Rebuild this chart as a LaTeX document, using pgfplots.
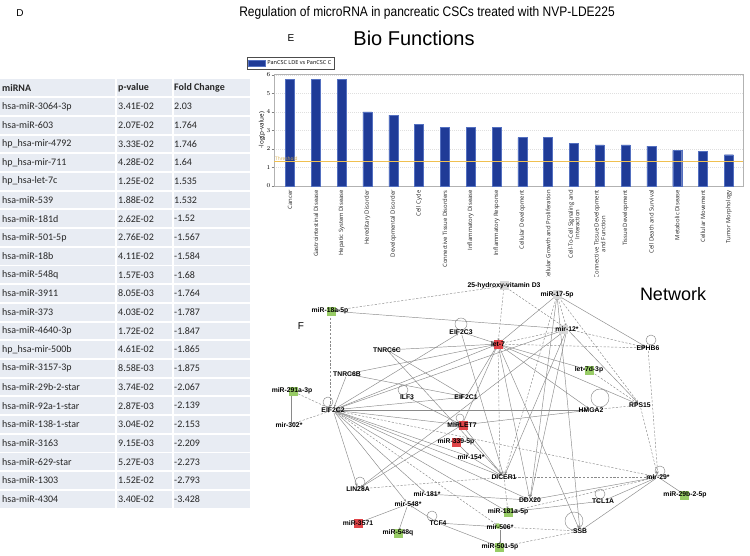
\documentclass[border=0pt]{standalone}
\usepackage{fontspec}
\setmainfont{Liberation Sans}
\newfontfamily\tabfont{Carlito}
\newfontfamily\uifont{Open Sans}
\usepackage{pgfplots}
\pgfplotsset{compat=1.18}
\usetikzlibrary{arrows.meta}
\definecolor{barblue}{HTML}{1F3B97}
\definecolor{baredge}{HTML}{5470C0}
\definecolor{tabbg}{HTML}{E8ECF3}
\definecolor{thr}{HTML}{F0C050}
\definecolor{netgray}{HTML}{8A8A8A}
\definecolor{netgreen}{HTML}{98CC66}
\definecolor{netred}{HTML}{E04448}
\definecolor{netlight}{HTML}{D8D8D8}
\pgfplotsset{
  ne/.style={no marks, color=netgray, line width=0.45pt, -{Stealth[length=2.6pt,width=2.2pt]}, shorten >=3pt, shorten <=3pt},
  nd/.style={ne, dash pattern=on 2.2pt off 1.6pt},
  pix/.style={at={(0pt,0pt)}, anchor=north west, scale only axis, width=750pt, height=555pt,
    xmin=0, xmax=750, ymin=0, ymax=555, y dir=reverse, axis lines=none, clip=false},
}
\newcommand{\nf}{\fontsize{6.8}{7}\selectfont\bfseries}
\begin{document}
\begin{tikzpicture}
\useasboundingbox[fill=white] (0,0) rectangle (750pt,-555pt);

% ---- headings
\node[font=\fontsize{10}{10}\selectfont] at (20pt,-13pt) {D};
\node[font=\fontsize{12}{12}\selectfont, yscale=1.15] at (427pt,-13pt) {Regulation of microRNA in pancreatic CSCs treated with NVP-LDE225};
\node[font=\fontsize{10}{10}\selectfont] at (291pt,-38pt) {E};
\node[font=\fontsize{20}{20}\selectfont] at (414pt,-38pt) {Bio Functions};

% ---- table D
\begin{scope}[font=\tabfont\fontsize{10}{11}\selectfont, text=black!85]
\fill[tabbg] (0pt,-79.4pt) rectangle (114.5pt,-96.2pt);
\fill[tabbg] (116.5pt,-79.4pt) rectangle (171.5pt,-96.2pt);
\fill[tabbg] (173.5pt,-79.4pt) rectangle (250pt,-96.2pt);
\node[anchor=west, inner sep=0pt, font=\tabfont\fontsize{10}{11}\selectfont\bfseries] at (2pt,-87.8pt) {miRNA};
\node[anchor=west, inner sep=0pt, font=\tabfont\fontsize{10}{11}\selectfont\bfseries] at (118pt,-87.8pt) {p-value};
\node[anchor=west, inner sep=0pt, font=\tabfont\fontsize{10}{11}\selectfont\bfseries] at (174pt,-87.8pt) {Fold Change};
\foreach \i/\a/\b/\c in {
0/hsa-miR-3064-3p/3.41E-02/2.03,
1/hsa-miR-603/2.07E-02/1.764,
2/hp\_hsa-mir-4792/3.33E-02/1.746,
3/hp\_hsa-mir-711/4.28E-02/1.64,
4/hp\_hsa-let-7c/1.25E-02/1.535,
5/hsa-miR-539/1.88E-02/1.532,
6/hsa-miR-181d/2.62E-02/-1.52,
7/hsa-miR-501-5p/2.76E-02/-1.567,
8/hsa-miR-18b/4.11E-02/-1.584,
9/hsa-miR-548q/1.57E-03/-1.68,
10/hsa-miR-3911/8.05E-03/-1.764,
11/hsa-miR-373/4.03E-02/-1.787,
12/hsa-miR-4640-3p/1.72E-02/-1.847,
13/hp\_hsa-mir-500b/4.61E-02/-1.865,
14/hsa-miR-3157-3p/8.58E-03/-1.875,
15/hsa-miR-29b-2-star/3.74E-02/-2.067,
16/hsa-miR-92a-1-star/2.87E-03/-2.139,
17/hsa-miR-138-1-star/3.04E-02/-2.153,
18/hsa-miR-3163/9.15E-03/-2.209,
19/hsa-miR-629-star/5.27E-03/-2.273,
20/hsa-miR-1303/1.52E-02/-2.793,
21/hsa-miR-4304/3.40E-02/-3.428}{
  \pgfmathsetmacro\yc{-(106.5+18.7*\i)}
  \pgfmathsetmacro\yt{\yc+8.4}
  \pgfmathsetmacro\yb{\yc-8.4}
  \fill[tabbg] (0pt,\yt pt) rectangle (114.5pt,\yb pt);
  \fill[tabbg] (116.5pt,\yt pt) rectangle (171.5pt,\yb pt);
  \fill[tabbg] (173.5pt,\yt pt) rectangle (250pt,\yb pt);
  \node[anchor=west, inner sep=0pt] at (2pt,\yc pt) {\a};
  \node[anchor=west, inner sep=0pt] at (118pt,\yc pt) {\b};
  \node[anchor=west, inner sep=0pt] at (174pt,\yc pt) {\c};
}
\end{scope}

% ---- bar chart E
\begin{axis}[
  at={(274pt,-186pt)}, anchor=south west,
  scale only axis, width=469pt, height=112pt,
  xmin=-0.62, xmax=17.55, ymin=0, ymax=6.05,
  xtick={0,1,...,17},
  xticklabels={Cancer, Gastrointestinal Disease, Hepatic System Disease, Hereditary Disorder, Developmental Disorder, Cell Cycle, Connective Tissue Disorders, Inflammatory Disease, Inflammatory Response, Cellular Development, Cellular Growth and Proliferation, {Cell-To-Cell Signaling and\\Interaction}, {Connective Tissue Development\\and Function}, Tissue Development, Cell Death and Survival, Metabolic Disease, Cellular Movement, Tumor Morphology},
  xticklabel style={rotate=90, anchor=east, align=center, font=\uifont\fontsize{5.9}{6.6}\selectfont, text=black!85, inner sep=1.5pt},
  x tick style={draw=none},
  xtick pos=bottom, ytick pos=left,
  ytick={0,...,6},
  yticklabel style={font=\uifont\fontsize{6}{6}\selectfont, inner sep=1pt},
  y tick style={gray},
  tick align=outside, major tick length=2.5pt,
  ylabel={-log(p-value)},
  ylabel style={font=\uifont\fontsize{6.3}{6.5}\selectfont, yshift=-3pt},
  ymajorgrids, grid style={gray!25, dash pattern=on 1pt off 1pt},
  axis line style={gray!60},
  legend style={at={(-0.0576,1.148)}, anchor=north west, font=\uifont\fontsize{5.5}{6}\selectfont, draw=black!70, inner sep=0.8pt, legend cell align=left},
]
\addplot[ybar, area legend, bar width=9pt, fill=barblue, draw=baredge, line width=0.3pt] coordinates {(0,5.75) (1,5.75) (2,5.75) (3,4.01) (4,3.83) (5,3.34) (6,3.17) (7,3.17) (8,3.17) (9,2.62) (10,2.62) (11,2.29) (12,2.22) (13,2.22) (14,2.15) (15,1.93) (16,1.88) (17,1.69)};
\addlegendentry{PanCSC LDE vs PanCSC C}
\addplot[thr, line width=0.9pt, no marks, forget plot] coordinates {(-0.62,1.3) (17.55,1.3)};
\node[anchor=south west, inner sep=0.5pt, text=thr!90!black, font=\uifont\fontsize{4.8}{5}\selectfont] at (axis cs:-0.6,1.33) {Threshold};
\end{axis}

% ---- network F: edges, loops, highlights
\begin{axis}[pix]
\fill[white] (axis cs:284,277) rectangle (axis cs:750,555);
% solid edges
\addplot[ne] coordinates {(333,410) (498,344)};
\addplot[ne] coordinates {(333,410) (461,332)};
\addplot[ne] coordinates {(333,410) (567,329)};
\addplot[ne] coordinates {(333,410) (466,397)};
\addplot[ne] coordinates {(333,410) (591,410)};
\addplot[ne] coordinates {(333,410) (462,425)};
\addplot[ne] coordinates {(333,410) (504,477)};
\addplot[ne] coordinates {(333,410) (530,500)};
\addplot[ne] coordinates {(333,410) (508,512)};
\addplot[ne] coordinates {(333,410) (408,504)};
\addplot[ne] coordinates {(333,410) (427,494)};
\addplot[ne] coordinates {(333,410) (358,489)};
\addplot[ne] coordinates {(333,410) (471,457)};
\addplot[ne] coordinates {(387,350) (498,344)};
\addplot[ne] coordinates {(387,350) (504,477)};
\addplot[ne] coordinates {(387,350) (466,397)};
\addplot[ne] coordinates {(347,374) (498,344)};
\addplot[ne] coordinates {(347,374) (333,410)};
\addplot[ne] coordinates {(347,374) (466,397)};
\addplot[ne] coordinates {(461,332) (498,344)};
\addplot[ne] coordinates {(461,332) (504,477)};
\addplot[ne] coordinates {(498,344) (530,500)};
\addplot[ne] coordinates {(498,344) (580,531)};
\addplot[ne] coordinates {(498,344) (640,405)};
\addplot[ne] coordinates {(498,344) (591,410)};
\addplot[ne] coordinates {(498,344) (589,370)};
\addplot[ne] coordinates {(462,425) (498,344)};
\addplot[ne] coordinates {(557,295) (498,344)};
\addplot[ne] coordinates {(557,295) (530,500)};
\addplot[ne] coordinates {(557,295) (580,531)};
\addplot[ne] coordinates {(557,295) (648,348)};
\addplot[ne] coordinates {(567,329) (530,500)};
\addplot[ne] coordinates {(567,329) (504,477)};
\addplot[ne] coordinates {(567,329) (640,405)};
\addplot[ne] coordinates {(567,329) (358,489)};
\addplot[ne] coordinates {(330,311) (567,329)};
\addplot[ne] coordinates {(407,397) (462,425)};
\addplot[ne] coordinates {(466,397) (498,344)};
\addplot[ne] coordinates {(462,425) (504,477)};
\addplot[ne] coordinates {(462,425) (591,410)};
\addplot[ne] coordinates {(462,425) (358,489)};
\addplot[ne] coordinates {(456,442) (471,457)};
\addplot[ne] coordinates {(471,457) (504,477)};
\addplot[ne] coordinates {(658,477) (530,500)};
\addplot[ne] coordinates {(658,477) (603,501)};
\addplot[ne] coordinates {(658,477) (580,531)};
\addplot[ne] coordinates {(658,477) (685,495)};
\addplot[ne] coordinates {(427,494) (530,500)};
\addplot[ne] coordinates {(508,512) (603,501)};
\addplot[ne] coordinates {(408,504) (358,523)};
\addplot[ne] coordinates {(408,504) (398,533)};
\addplot[ne] coordinates {(438,523) (408,504)};
\addplot[ne] coordinates {(438,523) (500,527)};
\addplot[ne] coordinates {(438,523) (500,547)};
\addplot[ne] coordinates {(500,527) (500,547)};
\addplot[no marks, color=netgray, line width=0.45pt] coordinates {(291,394) (291,423)};
% dashed edges
\addplot[nd] coordinates {(504,286) (330,311)};
\addplot[nd] coordinates {(504,286) (498,344)};
\addplot[nd] coordinates {(504,286) (567,329)};
\addplot[nd] coordinates {(330,311) (330,410)};
\addplot[nd] coordinates {(557,295) (504,477)};
\addplot[nd] coordinates {(557,295) (567,329)};
\addplot[nd] coordinates {(557,295) (640,405)};
\addplot[nd] coordinates {(498,344) (648,348)};
\addplot[nd] coordinates {(498,344) (500,477)};
\addplot[nd] coordinates {(567,329) (648,348)};
\addplot[nd] coordinates {(567,329) (498,344)};
\addplot[nd] coordinates {(648,348) (658,477)};
\addplot[nd] coordinates {(640,405) (591,410)};
\addplot[nd] coordinates {(640,405) (658,477)};
\addplot[nd] coordinates {(589,370) (640,405)};
\addplot[nd] coordinates {(504,477) (658,477)};
\addplot[nd] coordinates {(504,477) (358,489)};
\addplot[nd] coordinates {(504,477) (508,512)};
\addplot[nd] coordinates {(333,410) (658,477)};
\addplot[nd] coordinates {(658,477) (508,512)};
\addplot[nd] coordinates {(580,531) (500,547)};
\addplot[nd] coordinates {(580,531) (500,527)};
\addplot[nd] coordinates {(292,391) (333,410)};
\addplot[nd] coordinates {(289,425) (333,410)};
\addplot[nd] coordinates {(333,410) (500,527)};
% self loops
\addplot[only marks, mark=o, mark size=5pt, color=netgray, mark options={line width=0.45pt}] coordinates {(328,402) (403,390) (360,482) (600,494) (432,516) (651,340) (660,471)};
\addplot[only marks, mark=o, mark size=6pt, color=netgray, mark options={line width=0.45pt}] coordinates {(461,324)};
\addplot[only marks, mark=o, mark size=4pt, color=netgray, mark options={line width=0.45pt}] coordinates {(460,418)};
\addplot[only marks, mark=o, mark size=9pt, color=netgray, mark options={line width=0.45pt}] coordinates {(600,398) (574,521)};
% highlighted molecules
\addplot[only marks, mark=square*, mark size=3.8pt, color=netlight] coordinates {(504,285) (557,294) (563,329)};
\addplot[only marks, mark=square*, mark size=3.8pt, color=netgreen] coordinates {(331,311) (589,370) (293,391) (684,495) (508,512) (398,533) (499,547)};
\addplot[only marks, mark=*, mark size=2.5pt, color=netgreen] coordinates {(498,526)};
\addplot[only marks, mark=square*, mark size=3.8pt, color=netred] coordinates {(498,344) (463,425) (456,442) (358,523)};
\end{axis}

% ---- network F: labels on top
\begin{axis}[pix]
\node[font=\nf] at (axis cs:504,286) {25-hydroxy-vitamin D3};
\node[font=\nf] at (axis cs:557,295) {miR-17-5p};
\node[font=\nf] at (axis cs:330,311) {miR-18a-5p};
\node[font=\nf] at (axis cs:567,329) {mir-12*};
\node[font=\nf] at (axis cs:461,332) {EIF2C3};
\node[font=\nf] at (axis cs:498,344) {let-7};
\node[font=\nf] at (axis cs:648,348) {EPHB6};
\node[font=\nf] at (axis cs:387,350) {TNRC6C};
\node[font=\nf] at (axis cs:589,370) {let-7d-3p};
\node[font=\nf] at (axis cs:347,374) {TNRC6B};
\node[font=\nf] at (axis cs:292,391) {miR-291a-3p};
\node[font=\nf] at (axis cs:407,397) {ILF3};
\node[font=\nf] at (axis cs:466,397) {EIF2C1};
\node[font=\nf] at (axis cs:333,410) {EIF2C2};
\node[font=\nf] at (axis cs:591,410) {HMGA2};
\node[font=\nf] at (axis cs:640,405) {RPS15};
\node[font=\nf] at (axis cs:289,425) {mir-302*};
\node[font=\nf] at (axis cs:462,425) {MIRLET7};
\node[font=\nf] at (axis cs:456,442) {miR-339-5p};
\node[font=\nf] at (axis cs:471,457) {mir-154*};
\node[font=\nf] at (axis cs:504,477) {DICER1};
\node[font=\nf] at (axis cs:658,477) {mir-29*};
\node[font=\nf] at (axis cs:358,489) {LIN28A};
\node[font=\nf] at (axis cs:427,494) {mir-181*};
\node[font=\nf] at (axis cs:530,500) {DDX20};
\node[font=\nf] at (axis cs:603,501) {TCL1A};
\node[font=\nf] at (axis cs:685,495) {miR-29b-2-5p};
\node[font=\nf] at (axis cs:408,504) {mir-548*};
\node[font=\nf] at (axis cs:508,512) {miR-181a-5p};
\node[font=\nf] at (axis cs:358,523) {miR-3571};
\node[font=\nf] at (axis cs:438,523) {TCF4};
\node[font=\nf] at (axis cs:500,527) {mir-506*};
\node[font=\nf] at (axis cs:580,531) {SSB};
\node[font=\nf] at (axis cs:398,533) {miR-548q};
\node[font=\nf] at (axis cs:500,547) {miR-501-5p};
\node[font=\fontsize{10}{10}\selectfont] at (axis cs:301,326) {F};
\node[font=\fontsize{18}{18}\selectfont] at (axis cs:673,294) {Network};
\end{axis}
\end{tikzpicture}
\end{document}
